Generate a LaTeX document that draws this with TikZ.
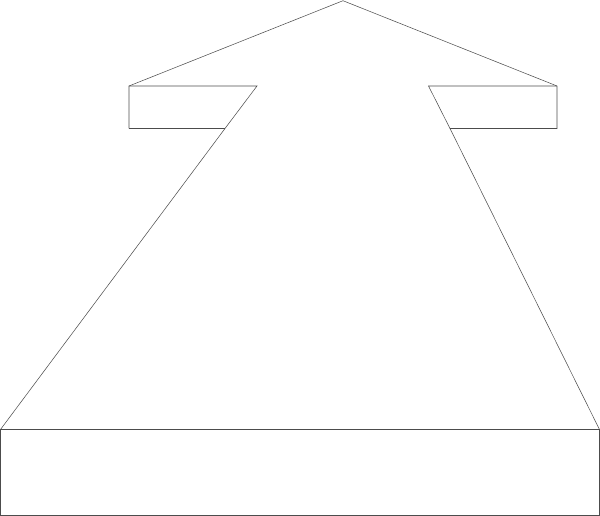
\documentclass[tikz,border=0pt]{standalone}
\begin{document}
\begin{tikzpicture}[x=0.02cm, y=-0.02cm, outline/.style={draw=black!70, line width=0.3pt}]
        \useasboundingbox (0, 0) rectangle (600, 516);
        % arrow head
        \coordinate (tip) at (343, 0.7);
        \coordinate (hl) at (129, 86);
        \coordinate (hr) at (557, 86);
        \draw[outline] (129, 128.5) -- (hl) -- (tip) -- (hr) -- (557, 128.5) -- (450, 128.5);
        \draw[outline] (hl) -- (257, 86) -- (225, 128.5);
        \draw[outline] (129, 128.5) -- (225, 128.5);
        \draw[outline] (hr) -- (428.5, 86) -- (450, 128.5);
        % shaft
        \draw[outline] (225, 128.5) -- (0.5, 429.5);
        \draw[outline] (450, 128.5) -- (599.5, 429.5);
        % base
        \draw[outline] (0.5, 429.5) rectangle (599.5, 515.5);
    \end{tikzpicture}
\end{document}
